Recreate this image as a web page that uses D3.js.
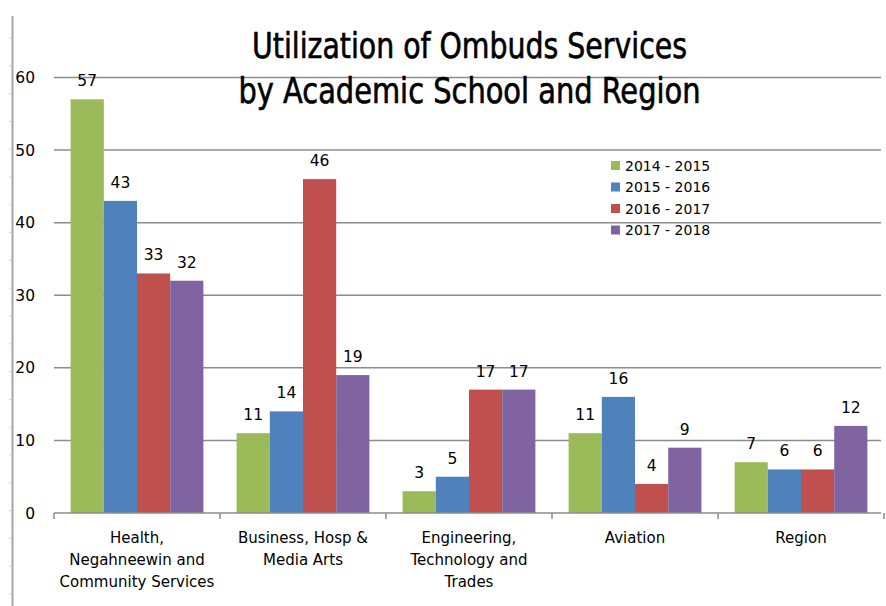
<!DOCTYPE html>
<html>
<head>
<meta charset="utf-8">
<script src="https://cdn.jsdelivr.net/npm/d3@7"></script>
<style>
  html, body { margin: 0; padding: 0; background: #fff; }
  svg { display: block; }
</style>
</head>
<body>
<svg id="chart" width="886" height="606"></svg>
<script>
// Ombuds service usage per academic school, four academic years
const categories = [
  ["Health,", "Negahneewin and", "Community Services"],
  ["Business, Hosp &", "Media Arts"],
  ["Engineering,", "Technology and", "Trades"],
  ["Aviation"],
  ["Region"]
];
const seriesNames = ["2014 - 2015", "2015 - 2016", "2016 - 2017", "2017 - 2018"];
const values2014 = [57, 11, 3, 11, 7];
const values2015 = [43, 14, 5, 16, 6];
const values2016 = [33, 46, 17, 4, 6];
const values2017 = [32, 19, 17, 9, 12];
const yTicks = [0, 10, 20, 30, 40, 50, 60];
const titleLines = ["Utilization of Ombuds Services", "by Academic School and Region"];

const seriesValues = [values2014, values2015, values2016, values2017];
const colors = ["#9BBB59", "#4F81BD", "#C0504D", "#8064A2"];

const svg = d3.select("#chart");
const font = "'DejaVu Sans', Verdana, sans-serif";

const plotLeft = 54, plotRight = 884, plotTop = 77.5, plotBottom = 513;

const x0 = d3.scaleBand()
  .domain(d3.range(categories.length))
  .range([plotLeft, plotRight])
  .paddingInner(0.2)
  .paddingOuter(0.1);
const x1 = d3.scaleBand()
  .domain(d3.range(seriesNames.length))
  .range([0, x0.bandwidth()]);
const y = d3.scaleLinear().domain([0, 60]).range([plotBottom, plotTop]);

// outer frame line on the left with faint minor marks
svg.append("line")
  .attr("x1", 12.5).attr("x2", 12.5).attr("y1", 16).attr("y2", 606)
  .attr("stroke", "#a6a6a6").attr("stroke-width", 2);
svg.append("g").selectAll("line")
  .data(d3.range(38, 606, 27.8))
  .join("line")
  .attr("x1", 9).attr("x2", 12)
  .attr("y1", d => d).attr("y2", d => d)
  .attr("stroke", "#d0d0d0").attr("stroke-width", 1);

// horizontal gridlines
svg.append("g").selectAll("line")
  .data(yTicks.filter(t => t > 0))
  .join("line")
  .attr("x1", plotLeft).attr("x2", 881)
  .attr("y1", d => y(d)).attr("y2", d => y(d))
  .attr("stroke", "#8c8c8c").attr("stroke-width", 1.5);

// y tick labels
svg.append("g").selectAll("text")
  .data(yTicks)
  .join("text")
  .attr("x", 35).attr("y", d => y(d))
  .attr("dy", "0.36em")
  .attr("text-anchor", "end")
  .attr("font-family", font).attr("font-size", 15.5)
  .attr("fill", "#000")
  .text(d => d);

// bars
const groups = svg.append("g").selectAll("g")
  .data(categories.map((c, i) => i))
  .join("g")
  .attr("transform", i => `translate(${x0(i)},0)`);

groups.selectAll("rect")
  .data(i => seriesValues.map((vals, s) => ({ s, v: vals[i] })))
  .join("rect")
  .attr("x", d => x1(d.s))
  .attr("width", x1.bandwidth())
  .attr("y", d => y(d.v))
  .attr("height", d => y(0) - y(d.v))
  .attr("fill", d => colors[d.s]);

// value labels
groups.selectAll("text")
  .data(i => seriesValues.map((vals, s) => ({ s, v: vals[i] })))
  .join("text")
  .attr("x", d => x1(d.s) + x1.bandwidth() / 2)
  .attr("y", d => y(d.v) - 13)
  .attr("text-anchor", "middle")
  .attr("font-family", font).attr("font-size", 15.5)
  .attr("fill", "#000")
  .text(d => d.v);

// x axis line with category separators
svg.append("line")
  .attr("x1", plotLeft).attr("x2", 881)
  .attr("y1", plotBottom).attr("y2", plotBottom)
  .attr("stroke", "#8c8c8c").attr("stroke-width", 1.5);
svg.append("g").selectAll("line")
  .data(d3.range(categories.length + 1))
  .join("line")
  .attr("x1", i => plotLeft + i * x0.step())
  .attr("x2", i => plotLeft + i * x0.step())
  .attr("y1", plotBottom).attr("y2", plotBottom + 6)
  .attr("stroke", "#8c8c8c").attr("stroke-width", 1.5);

// category labels
const catText = svg.append("g").selectAll("text")
  .data(categories)
  .join("text")
  .attr("text-anchor", "middle")
  .attr("font-family", font).attr("font-size", 15)
  .attr("fill", "#000");
catText.each(function (lines, i) {
  const cx = x0(i) + x0.bandwidth() / 2;
  d3.select(this).selectAll("tspan")
    .data(lines)
    .join("tspan")
    .attr("x", cx)
    .attr("y", (d, k) => 542.5 + k * 22)
    .text(d => d);
});

// legend
const legend = svg.append("g").selectAll("g")
  .data(seriesNames)
  .join("g")
  .attr("transform", (d, i) => `translate(611,${165.5 + i * 21.5})`);
legend.append("rect")
  .attr("x", 0).attr("y", -4.5)
  .attr("width", 9).attr("height", 9)
  .attr("fill", (d, i) => colors[i]);
legend.append("text")
  .attr("x", 14).attr("y", 0).attr("dy", "0.36em")
  .attr("font-family", font).attr("font-size", 14)
  .attr("fill", "#000")
  .text(d => d);

// title, condensed and slightly heavier than regular weight
const titleSpans = [
  { t: titleLines[0], y: 58, w: 435 },
  { t: titleLines[1], y: 103, w: 462 }
];
svg.append("g").selectAll("text")
  .data(titleSpans)
  .join("text")
  .attr("x", 469.5).attr("y", d => d.y)
  .attr("text-anchor", "middle")
  .attr("font-family", "'DejaVu Sans Condensed', 'DejaVu Sans', sans-serif")
  .attr("font-size", 35)
  .attr("textLength", d => d.w)
  .attr("lengthAdjust", "spacingAndGlyphs")
  .attr("fill", "#000")
  .attr("stroke", "#000")
  .attr("stroke-width", 0.6)
  .text(d => d.t);
</script>
</body>
</html>
